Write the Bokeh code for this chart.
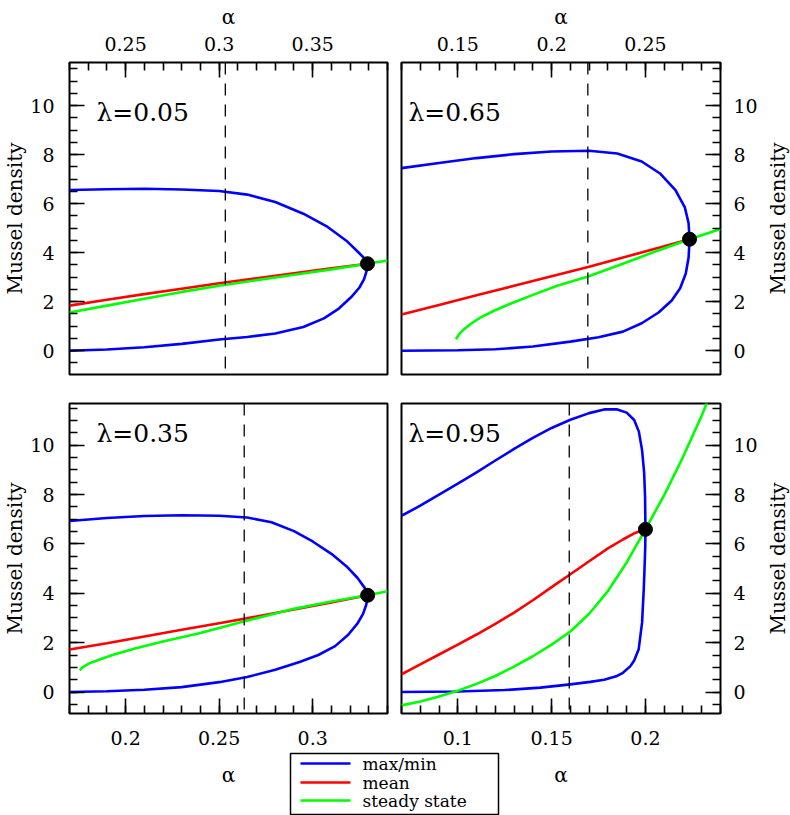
import math
import numpy as np
from bokeh.plotting import figure
from bokeh.layouts import column, row
from bokeh.models import (LinearAxis, FixedTicker, CustomJSTickFormatter, Span, Range1d)
from bokeh.core.properties import value
from bokeh.embed import file_html
from bokeh.resources import INLINE

FONT = "DejaVu Serif"

# ---------------- data ----------------
y_ticks = [0, 2, 4, 6, 8, 10]
y_title = "Mussel density"
x_title = "α"

# lambda = 0.05 (top left)
tl_label = "λ=0.05"
tl_xrange = (0.22, 0.39)
tl_xticks = [0.25, 0.3, 0.35]
tl_alpha_c = 0.3033
tl_hopf = (0.3793, 3.55)
tl_max_a = [0.220, 0.240, 0.260, 0.280, 0.300, 0.315, 0.330, 0.345, 0.358, 0.368, 0.374, 0.3775, 0.3788, 0.3793]
tl_max_y = [6.56, 6.59, 6.61, 6.58, 6.52, 6.37, 6.07, 5.59, 5.05, 4.49, 4.05, 3.78, 3.65, 3.55]
tl_min_a = [0.3793, 0.3788, 0.3775, 0.3750, 0.3705, 0.3640, 0.3560, 0.3450, 0.3300, 0.3150, 0.3000, 0.2800, 0.2600, 0.2400, 0.2200]
tl_min_y = [3.55, 3.25, 2.92, 2.58, 2.18, 1.72, 1.32, 0.97, 0.70, 0.56, 0.46, 0.28, 0.14, 0.05, 0.00]
tl_mean_a = [0.22, 0.24, 0.26, 0.28, 0.30, 0.32, 0.34, 0.36, 0.3793]
tl_mean_y = [1.84, 2.08, 2.31, 2.53, 2.75, 2.96, 3.16, 3.36, 3.55]
tl_ss_a = [0.22, 0.24, 0.26, 0.28, 0.30, 0.32, 0.34, 0.36, 0.3793, 0.39]
tl_ss_y = [1.56, 1.84, 2.12, 2.40, 2.65, 2.88, 3.10, 3.32, 3.55, 3.68]

# lambda = 0.65 (top right)
tr_label = "λ=0.65"
tr_xrange = (0.12, 0.29)
tr_xticks = [0.15, 0.2, 0.25]
tr_alpha_c = 0.2193
tr_hopf = (0.2735, 4.55)
tr_max_a = [0.120, 0.140, 0.160, 0.180, 0.200, 0.220, 0.235, 0.248, 0.258, 0.266, 0.271, 0.2730, 0.2735]
tr_max_y = [7.45, 7.66, 7.86, 8.02, 8.13, 8.16, 8.05, 7.72, 7.22, 6.55, 5.85, 5.20, 4.55]
tr_min_a = [0.2735, 0.2730, 0.2715, 0.2685, 0.2640, 0.2570, 0.2480, 0.2380, 0.2250, 0.2100, 0.1900, 0.1700, 0.1500, 0.1200]
tr_min_y = [4.55, 3.80, 3.15, 2.55, 2.05, 1.56, 1.12, 0.78, 0.55, 0.37, 0.17, 0.06, 0.02, 0.00]
tr_mean_a = [0.12, 0.14, 0.16, 0.18, 0.20, 0.22, 0.24, 0.26, 0.2735]
tr_mean_y = [1.48, 1.87, 2.26, 2.65, 3.04, 3.43, 3.84, 4.26, 4.55]
tr_ss_a = [0.1490, 0.1505, 0.1530, 0.1570, 0.1620, 0.1690, 0.1780, 0.1900, 0.2030, 0.2190, 0.2380, 0.2560, 0.2735, 0.2900]
tr_ss_y = [0.47, 0.66, 0.86, 1.10, 1.35, 1.62, 1.92, 2.28, 2.65, 3.02, 3.55, 4.07, 4.55, 4.97]

# lambda = 0.35 (bottom left)
bl_label = "λ=0.35"
bl_xrange = (0.17, 0.34)
bl_xticks = [0.2, 0.25, 0.3]
bl_alpha_c = 0.2634
bl_hopf = (0.3294, 3.92)
bl_max_a = [0.17, 0.19, 0.21, 0.23, 0.25, 0.265, 0.278, 0.290, 0.300, 0.310, 0.318, 0.324, 0.3280, 0.3294]
bl_max_y = [6.93, 7.05, 7.13, 7.16, 7.14, 7.07, 6.88, 6.52, 6.10, 5.60, 5.10, 4.62, 4.20, 3.92]
bl_min_a = [0.3294, 0.3287, 0.3270, 0.3240, 0.3190, 0.3120, 0.3030, 0.2930, 0.2800, 0.2650, 0.2500, 0.2300, 0.2100, 0.1900, 0.1700]
bl_min_y = [3.92, 3.55, 3.18, 2.78, 2.32, 1.86, 1.50, 1.22, 0.90, 0.61, 0.40, 0.20, 0.09, 0.03, 0.00]
bl_mean_a = [0.17, 0.19, 0.21, 0.23, 0.25, 0.27, 0.29, 0.31, 0.3294]
bl_mean_y = [1.72, 1.98, 2.25, 2.52, 2.79, 3.06, 3.34, 3.63, 3.92]
bl_ss_a = [0.1755, 0.1770, 0.1800, 0.1850, 0.1930, 0.2050, 0.2200, 0.2400, 0.2630, 0.2900, 0.3100, 0.3294, 0.3400]
bl_ss_y = [0.88, 1.00, 1.14, 1.29, 1.50, 1.76, 2.05, 2.39, 2.86, 3.37, 3.67, 3.92, 4.08]

# lambda = 0.95 (bottom right)
br_label = "λ=0.95"
br_xrange = (0.07, 0.24)
br_xticks = [0.1, 0.15, 0.2]
br_alpha_c = 0.1594
br_hopf = (0.2000, 6.59)
br_max_a = [0.070, 0.080, 0.090, 0.100, 0.110, 0.120, 0.130, 0.140, 0.150, 0.160, 0.170, 0.178, 0.185, 0.190, 0.194, 0.1965, 0.1982, 0.1993, 0.1998, 0.2000]
br_max_y = [7.14, 7.55, 8.00, 8.44, 8.90, 9.38, 9.85, 10.30, 10.70, 11.03, 11.30, 11.45, 11.45, 11.32, 11.02, 10.55, 9.80, 8.90, 7.90, 6.59]
br_min_a = [0.2000, 0.1999, 0.1996, 0.1991, 0.1982, 0.1964, 0.1940, 0.1920, 0.1880, 0.1849, 0.1780, 0.1706, 0.1600, 0.1440, 0.1250, 0.1000, 0.0700]
br_min_y = [6.59, 5.90, 5.20, 4.16, 2.81, 1.73, 1.28, 1.05, 0.78, 0.65, 0.50, 0.41, 0.31, 0.18, 0.08, 0.02, 0.00]
br_mean_a = [0.070, 0.080, 0.090, 0.100, 0.110, 0.120, 0.130, 0.140, 0.150, 0.160, 0.170, 0.180, 0.188, 0.194, 0.2000]
br_mean_y = [0.72, 1.12, 1.52, 1.92, 2.33, 2.76, 3.22, 3.72, 4.25, 4.77, 5.30, 5.82, 6.18, 6.43, 6.59]
br_ss_a = [0.07, 0.08, 0.09, 0.10, 0.11, 0.12, 0.13, 0.14, 0.15, 0.16, 0.17, 0.18, 0.19, 0.20, 0.21, 0.22, 0.23, 0.234]
br_ss_y = [-0.54, -0.38, -0.18, 0.05, 0.33, 0.65, 1.03, 1.45, 1.92, 2.45, 3.17, 4.09, 5.25, 6.59, 7.98, 9.52, 11.20, 11.95]

legend_labels = ["max/min", "mean", "steady state"]
COL_MAX, COL_MEAN, COL_SS = "#0000ff", "#ff0000", "#00ff00"
legend_colors = [COL_MAX, COL_MEAN, COL_SS]

# ---------------- helpers ----------------
fmt_code = "return String(Math.round(tick*1000)/1000);"
TICK_FS = "19px"
PAGE_W, PAGE_H = 790, 815


def make_axis(ticks, minor, label):
    return LinearAxis(
        ticker=FixedTicker(ticks=ticks, minor_ticks=minor),
        formatter=CustomJSTickFormatter(code=fmt_code),
        axis_line_color=None,
        major_tick_in=15, major_tick_out=0,
        minor_tick_in=8, minor_tick_out=0,
        major_tick_line_width=1.6, minor_tick_line_width=1.6,
        major_tick_line_color="black", minor_tick_line_color="black",
        major_label_text_font=FONT, major_label_text_font_size=TICK_FS,
        major_label_text_color="black", major_label_text_line_height=1.0,
        axis_label=label, axis_label_text_font=FONT,
        axis_label_text_font_style="normal", axis_label_text_color="black",
        axis_label_text_line_height=1.0, axis_label_text_font_size="20px",
        axis_label_standoff=0,
    )


def make_panel(xr, yr, size, borders, sides, lab, lab_y, lab_dx,
               max_a, max_y, min_a, min_y, mean_a, mean_y, ss_a, ss_y, hopf, ac, xticks):
    l, r, t, b = borders
    p = figure(width=size[0], height=size[1],
               x_range=Range1d(*xr), y_range=Range1d(*yr),
               toolbar_location=None, output_backend="svg",
               x_axis_location=None, y_axis_location=None,
               min_border_left=l, min_border_right=r,
               min_border_top=t, min_border_bottom=b)
    p.grid.visible = False
    p.outline_line_color = "black"
    p.outline_line_width = 2
    p.background_fill_color = "white"
    p.border_fill_color = "white"

    xminor = list(np.round(np.arange(xr[0], xr[1] + 1e-9, 0.01), 3))
    yminor = list(np.arange(-0.5, 11.6, 0.5))

    if "above" in sides:
        ax = make_axis(xticks, xminor, x_title)
        ax.major_label_standoff = 12
        ax.axis_label_standoff = 5
        p.add_layout(ax, "above")
    if "below" in sides:
        ax = make_axis(xticks, xminor, x_title)
        ax.major_label_standoff = 17
        ax.axis_label_standoff = 15
        p.add_layout(ax, "below")
    if "left" in sides:
        ay = make_axis(y_ticks, yminor, y_title)
        ay.major_label_standoff = 15
        ay.axis_label_standoff = 0
        p.add_layout(ay, "left")
    if "right" in sides:
        ay = make_axis(y_ticks, yminor, None)
        ay.major_label_standoff = 13
        p.add_layout(ay, "right")

    p.add_layout(Span(location=ac, dimension="height", line_color="black",
                      line_width=1.3, line_dash="12 9"))
    p.line(max_a + min_a[1:], max_y + min_y[1:], line_color=COL_MAX, line_width=2.6)
    p.line(mean_a, mean_y, line_color=COL_MEAN, line_width=2.6)
    p.line(ss_a, ss_y, line_color=COL_SS, line_width=2.6)
    p.scatter([hopf[0]], [hopf[1]], size=14, color="black")
    p.text(x=[xr[0] + lab_dx], y=[lab_y], text=[lab], text_font=value(FONT),
           text_font_size="25px", text_baseline="middle", text_align="left",
           text_color="black")
    return p


yr_top = (-0.97, 11.76)
yr_bot = (-0.87, 11.69)

# canvas sizes: left column 394 px, right column 396 px; rows 388 / 427 px
tl = make_panel(tl_xrange, yr_top, (394, 388), (68, 7, 62, 14), ["above", "left"], tl_label, 9.71, 0.0144,
                tl_max_a, tl_max_y, tl_min_a, tl_min_y, tl_mean_a, tl_mean_y, tl_ss_a, tl_ss_y,
                tl_hopf, tl_alpha_c, tl_xticks)
tr = make_panel(tr_xrange, yr_top, (396, 388), (7, 70, 62, 14), ["above", "right"], tr_label, 9.71, 0.0037,
                tr_max_a, tr_max_y, tr_min_a, tr_min_y, tr_mean_a, tr_mean_y, tr_ss_a, tr_ss_y,
                tr_hopf, tr_alpha_c, tr_xticks)
bl = make_panel(bl_xrange, yr_bot, (394, 427), (68, 7, 15, 102), ["below", "left"], bl_label, 10.46, 0.0144,
                bl_max_a, bl_max_y, bl_min_a, bl_min_y, bl_mean_a, bl_mean_y, bl_ss_a, bl_ss_y,
                bl_hopf, bl_alpha_c, bl_xticks)
br = make_panel(br_xrange, yr_bot, (396, 427), (7, 70, 15, 102), ["below", "right"], br_label, 10.46, 0.0037,
                br_max_a, br_max_y, br_min_a, br_min_y, br_mean_a, br_mean_y, br_ss_a, br_ss_y,
                br_hopf, br_alpha_c, br_xticks)

# transparent overlay in page pixels (y up): right-hand axis titles and the shared key
ov = figure(width=PAGE_W, height=PAGE_H, x_range=Range1d(0, PAGE_W), y_range=Range1d(0, PAGE_H),
            toolbar_location=None, output_backend="svg", min_border=0,
            x_axis_location=None, y_axis_location=None,
            styles={"margin-top": f"-{PAGE_H}px", "position": "relative", "z-index": "2",
                    "pointer-events": "none"})
ov.grid.visible = False
ov.outline_line_color = None
ov.background_fill_alpha = 0
ov.border_fill_alpha = 0
# right axis titles, reading bottom-to-top, centred on the right-hand frames
ov.text(x=[777, 777], y=[PAGE_H - 218, PAGE_H - 558], text=[y_title, y_title],
        angle=math.pi / 2, text_font=value(FONT), text_font_size="20px",
        text_baseline="middle", text_align="center", text_color="black")
# key box
ov.rect(x=[394], y=[31.5], width=208, height=61, fill_color="white",
        line_color="black", line_width=1.5)
key_rows = [52, 33, 15]
ov.segment(x0=[300] * 3, y0=key_rows, x1=[350] * 3, y1=key_rows,
           line_color=legend_colors, line_width=2.6)
ov.text(x=[362] * 3, y=key_rows, text=legend_labels, text_font=value(FONT),
        text_font_size="17px", text_baseline="middle", text_align="left",
        text_color="black")

layout = column(row(tl, tr), row(bl, br), ov)

with open("out.html", "w") as f:
    f.write(file_html(layout, INLINE))
